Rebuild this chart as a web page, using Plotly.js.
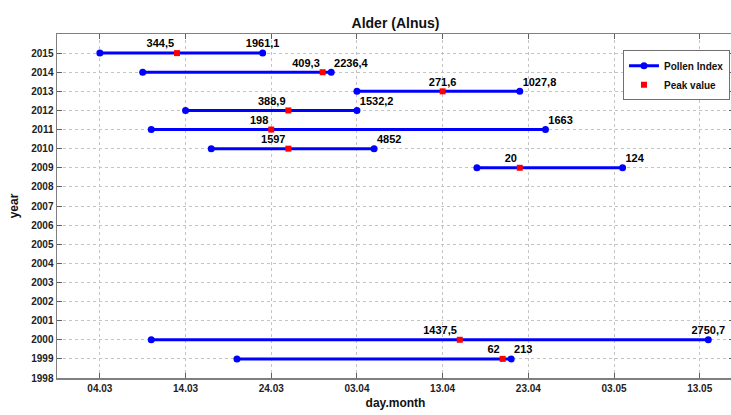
<!DOCTYPE html>
<html>
<head>
<meta charset="utf-8">
<script src="https://cdn.plot.ly/plotly-3.0.1.min.js"></script>
<style>
html,body{margin:0;padding:0;background:#fff;overflow:hidden;}
#chart{width:740px;height:415px;}
</style>
</head>
<body>
<div id="chart"></div>
<script>
// ---- data (day.month strings, values) ----
const years      = [2015, 2014, 2013, 2012, 2011, 2010, 2009, 2000, 1999];
const startDates = ['04.03','09.03','03.04','14.03','10.03','17.03','17.04','10.03','20.03'];
const peakDates  = ['13.03','30.03','13.04','26.03','24.03','26.03','22.04','15.04','20.04'];
const endDates   = ['23.03','31.03','22.04','03.04','25.04','05.04','04.05','14.05','21.04'];
const peakValues = [344.5, 409.3, 271.6, 388.9, 198, 1597, 20, 1437.5, 62];
const endValues  = [1961.1, 2236.4, 1027.8, 1532.2, 1663, 4852, 124, 2750.7, 213];
const xTickLabels = ['04.03','14.03','24.03','03.04','13.04','23.04','03.05','13.05'];
const yTickYears  = [1998,1999,2000,2001,2002,2003,2004,2005,2006,2007,2008,2009,2010,2011,2012,2013,2014,2015];

// ---- helpers ----
const BASE_YEAR = 2001;
function toDate(dm){ const p = dm.split('.'); return BASE_YEAR + '-' + p[1] + '-' + p[0]; }
function fmt(v){ return String(v).replace('.', ','); }

const lineX = [], lineY = [];
years.forEach((yr, i) => {
  lineX.push(toDate(startDates[i]), toDate(endDates[i]), null);
  lineY.push(yr, yr, null);
});
const endPos  = years.map(yr => (yr === 2015 || yr === 2000) ? 'top center' : 'top right');
const peakPos = years.map(yr => yr === 2013 ? 'top center' : 'top left');

const FONT = 'Liberation Sans, Arial, sans-serif';
const labelFont = {family: FONT, size: 11, color: '#000', weight: 'bold'};
const ghost = {size: 3, opacity: 0, color: '#fff'};

const traces = [
  {
    type: 'scatter', mode: 'lines+markers', name: 'Pollen Index',
    x: lineX, y: lineY, connectgaps: false,
    line: {color: '#0000ff', width: 3},
    marker: {color: '#0000ff', size: 7, symbol: 'circle'},
    cliponaxis: false, hoverinfo: 'skip'
  },
  {
    type: 'scatter', mode: 'markers', name: 'Peak value',
    x: peakDates.map(toDate), y: years,
    marker: {color: '#ff0000', size: 6, symbol: 'square'},
    cliponaxis: false, hoverinfo: 'skip'
  },
  {
    type: 'scatter', mode: 'markers+text', showlegend: false,
    x: endDates.map(toDate), y: years, marker: ghost,
    text: endValues.map(fmt), textposition: endPos, textfont: labelFont,
    cliponaxis: false, hoverinfo: 'skip'
  },
  {
    type: 'scatter', mode: 'markers+text', showlegend: false,
    x: peakDates.map(toDate), y: years, marker: ghost,
    text: peakValues.map(fmt), textposition: peakPos, textfont: labelFont,
    cliponaxis: false, hoverinfo: 'skip'
  }
];

const axisCommon = {
  showline: true, linecolor: '#808080', linewidth: 1.5, mirror: 'ticks',
  ticks: 'inside', ticklen: 5, tickcolor: '#606060', tickwidth: 1,
  showgrid: true, gridcolor: '#c4c4c4', griddash: 'dot', gridwidth: 1,
  zeroline: false,
  tickfont: {family: FONT, size: 10, color: '#222', weight: 'bold'}
};

const layout = {
  width: 740, height: 415,
  margin: {l: 57, r: 6, t: 34, b: 37, autoexpand: false},
  paper_bgcolor: '#fff', plot_bgcolor: '#fff',
  title: {text: 'Alder (Alnus)', x: 0.5, xref: 'paper', y: 0.955, yref: 'container',
          font: {family: FONT, size: 14, color: '#111', weight: 'bold'}},
  xaxis: Object.assign({}, axisCommon, {
    type: 'date', range: [toDate('27.02'), toDate('17.05')],
    tickvals: xTickLabels.map(toDate), ticktext: xTickLabels,
    title: {text: 'day.month', standoff: 6, font: {family: FONT, size: 12, color: '#111', weight: 'bold'}}
  }),
  yaxis: Object.assign({}, axisCommon, {
    range: [1998, 2016], tickvals: yTickYears, ticktext: yTickYears.map(String),
    title: {text: 'year', standoff: 10, font: {family: FONT, size: 12, color: '#111', weight: 'bold'}}
  }),
  showlegend: true,
  legend: {x: 0.836, y: 0.953, xanchor: 'left', yanchor: 'top',
           bgcolor: '#fff', bordercolor: '#707070', borderwidth: 1,
           font: {family: FONT, size: 10, color: '#111', weight: 'bold'},
           itemwidth: 30, tracegroupgap: 0}
};

Plotly.newPlot('chart', traces, layout, {staticPlot: true, displayModeBar: false});
</script>
</body>
</html>
